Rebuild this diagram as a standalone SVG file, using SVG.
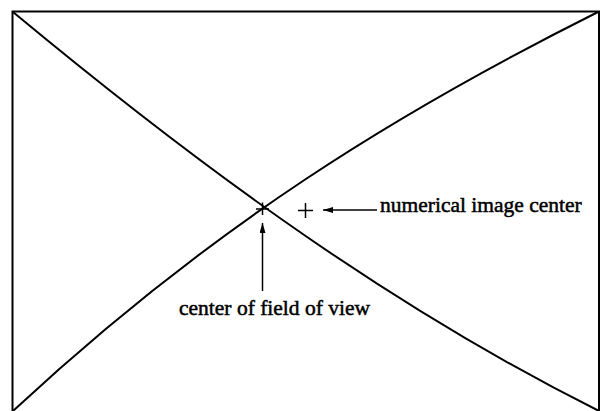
<svg xmlns="http://www.w3.org/2000/svg" width="602" height="411" viewBox="0 0 602 411">
<style>
.ln{fill:none;stroke:#000;stroke-width:2}
.thin{fill:none;stroke:#000;stroke-width:1.5}
.lbl{font-family:"Liberation Serif","Times New Roman",serif;font-size:21.5px;fill:#000;stroke:#000;stroke-width:0.5}
</style>
<defs>
<marker id="ah" viewBox="0 0 10 6" refX="10" refY="3" markerWidth="10" markerHeight="6" markerUnits="userSpaceOnUse" orient="auto">
<path d="M0,0 L10,3 L0,6 Z" fill="#000"/>
</marker>
</defs>
<rect width="602" height="411" fill="#fff"/>
<g id="frame">
<path class="ln" d="M12.5,411 L12.5,11.5 L599,11.5 L599,411"/>
</g>
<g id="curves">
<path class="ln" d="M13,12 C213,178 399,311 599,411"/>
<path class="ln" d="M598,12 C398,112 213,225 13,411"/>
</g>
<g id="center-of-field">
<path class="thin" d="M262.5,202.5 V215 M256,209 H269"/>
</g>
<g id="numerical-center">
<path class="thin" d="M305.5,203 V218 M298,210.5 H313"/>
</g>
<g id="connectors">
<line class="thin" x1="377" y1="210" x2="323" y2="210" marker-end="url(#ah)"/>
<line class="thin" x1="262.5" y1="291" x2="262.5" y2="223" marker-end="url(#ah)"/>
</g>
<g id="labels">
<text class="lbl" x="380" y="212">numerical image center</text>
<text class="lbl" x="179" y="315">center of field of view</text>
</g>
</svg>
